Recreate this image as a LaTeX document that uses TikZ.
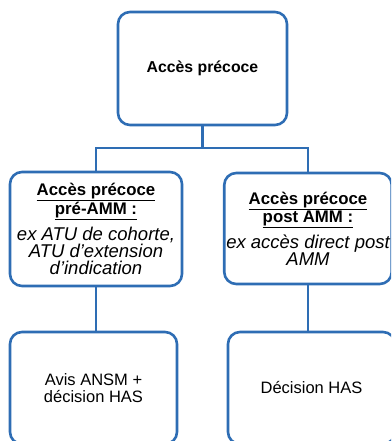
\documentclass[tikz,border=0pt]{standalone}
\usepackage{fontspec}
\setmainfont{Liberation Sans}
\usepackage{xcolor}
\usepackage{tikz}
\definecolor{boxblue}{HTML}{2E6DB4}
\newcommand{\headfont}{\fontsize{16.8}{16.5}\selectfont\bfseries}
\newcommand{\notefont}{\fontsize{18.5}{16.5}\selectfont\itshape}

\begin{document}
\begin{tikzpicture}[x=1pt,y=-1pt,
  box/.style={draw=boxblue, line width=2.6pt, rounded corners=12pt, fill=white,
    align=center, inner sep=2pt, font=\fontsize{16.5}{17}\selectfont},
  link/.style={draw=boxblue, line width=2.6pt}]
\useasboundingbox (0,0) rectangle (391,441);
\clip (0,0) rectangle (391,441);
\node[box, minimum width=169pt, minimum height=113pt, font=\fontsize{15.8}{17}\selectfont\bfseries] (top) at (202.5,68.5) {Accès précoce};
\node[box, minimum width=172pt, minimum height=114pt] (pre) at (96,229)
  {{\headfont\underline{Accès précoce}}\\{\headfont\underline{pré-AMM :}}\\[6pt]
   {\notefont ex ATU de cohorte,}\\{\notefont ATU d’extension}\\{\notefont d’indication}};
\node[box, minimum width=162pt, minimum height=111pt] (post) at (308,228.5)
  {{\headfont\underline{Accès précoce}}\\{\headfont\underline{post AMM :}}\\[6pt]
   {\notefont ex accès direct post}\\{\notefont AMM}};
\node[box, minimum width=167pt, minimum height=112pt] (avis) at (93.5,388) {Avis ANSM +\\décision HAS};
\node[box, minimum width=167pt, minimum height=112pt] (has) at (311.5,388) {Décision HAS};
\coordinate (bus) at (0,148);
\draw[link] (top.south) -- (top.south |- bus) -| (pre.north);
\draw[link] (top.south |- bus) -| (post.north);
\draw[link] (pre.south) -- (pre.south |- avis.north);
\draw[link] (post.south) -- (post.south |- has.north);
\end{tikzpicture}
\end{document}
